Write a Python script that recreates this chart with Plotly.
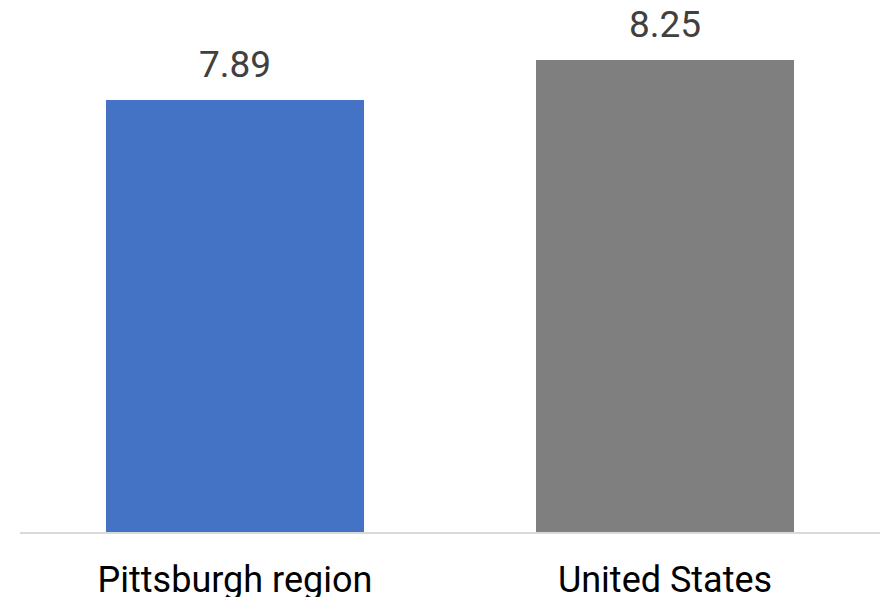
import plotly.graph_objects as go

categories = ["Pittsburgh region", "United States"]
values = [7.89, 8.25]
colors = ["#4472C4", "#7F7F7F"]
value_labels = ["7.89", "8.25"]

fig = go.Figure()
fig.add_trace(go.Bar(
    x=categories, y=values, marker=dict(color=colors, line=dict(width=0)),
    width=0.6, hoverinfo="skip",
))
for c, v, t in zip(categories, values, value_labels):
    fig.add_annotation(x=c, y=v, text=t, showarrow=False, yanchor="bottom",
                       yshift=12, font=dict(family="Roboto", size=37, color="#404040"))

fig.update_layout(
    width=880, height=597,
    margin=dict(l=20, r=0, t=0, b=65),
    paper_bgcolor="white", plot_bgcolor="white",
    showlegend=False,
    xaxis=dict(showline=True, linecolor="#D9D9D9", linewidth=1.5, showgrid=False,
               ticks="", tickfont=dict(family="Roboto", size=36, color="#000000"),
               ticklabelstandoff=15, automargin=False),
    yaxis=dict(range=[4, 8.79], visible=False, showgrid=False, zeroline=False,
               automargin=False),
)
fig.write_html("out.html", config={"displayModeBar": False},
               post_script="document.body.style.margin='0';document.body.style.overflow='hidden';")
